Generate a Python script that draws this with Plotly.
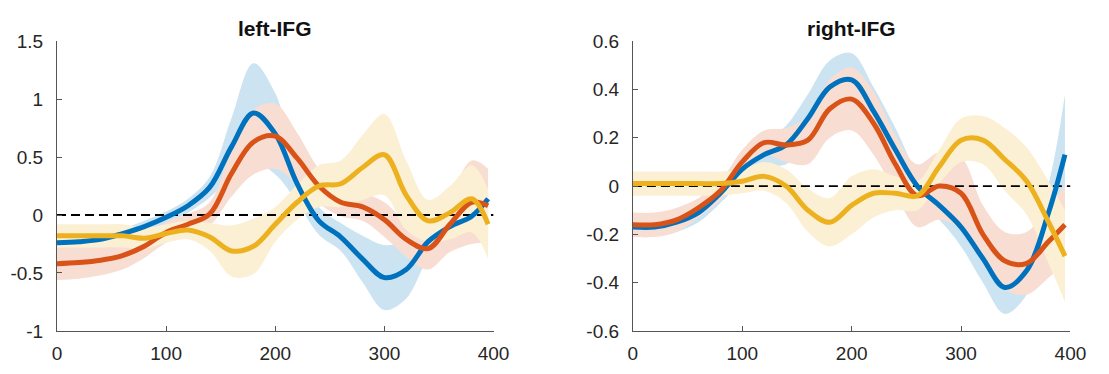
import plotly.graph_objects as go

# Time points (ms)
time = [0, 20, 40, 60, 80, 100, 120, 140, 160, 180, 200,
        220, 240, 260, 280, 300, 320, 340, 360, 380, 395]

# ---- left-IFG: condition means and standard errors ----
left_blue = [-0.24, -0.23, -0.21, -0.16, -0.10, -0.02, 0.08, 0.24, 0.59, 0.88, 0.70,
             0.27, -0.05, -0.19, -0.38, -0.54, -0.47, -0.23, -0.10, -0.01, 0.14]
left_blue_se = [0.04, 0.04, 0.04, 0.04, 0.05, 0.05, 0.06, 0.09, 0.25, 0.43, 0.35,
                0.16, 0.12, 0.12, 0.2, 0.28, 0.25, 0.15, 0.1, 0.06, 0.04]

left_red = [-0.42, -0.41, -0.39, -0.35, -0.27, -0.15, -0.08, 0.01, 0.36, 0.63, 0.68,
            0.49, 0.25, 0.11, 0.07, -0.04, -0.21, -0.29, -0.08, 0.11, 0.08]
left_red_se = [0.14, 0.14, 0.13, 0.12, 0.1, 0.09, 0.09, 0.1, 0.2, 0.28, 0.28,
               0.22, 0.15, 0.12, 0.12, 0.15, 0.15, 0.18, 0.24, 0.36, 0.32]

left_yellow = [-0.18, -0.18, -0.18, -0.18, -0.20, -0.16, -0.13, -0.19, -0.31, -0.27, -0.08,
               0.11, 0.25, 0.27, 0.41, 0.52, 0.17, -0.05, 0.02, 0.14, -0.08]
left_yellow_se = [0.1, 0.1, 0.1, 0.1, 0.09, 0.08, 0.08, 0.12, 0.22, 0.24, 0.15,
                  0.15, 0.18, 0.2, 0.28, 0.35, 0.3, 0.18, 0.23, 0.29, 0.3]

# ---- right-IFG: condition means and standard errors ----
right_blue = [-0.17, -0.17, -0.15, -0.11, -0.03, 0.07, 0.13, 0.17, 0.28, 0.41, 0.44,
              0.31, 0.15, 0.00, -0.08, -0.17, -0.30, -0.42, -0.35, -0.11, 0.13]
right_blue_se = [0.04, 0.04, 0.04, 0.04, 0.04, 0.05, 0.05, 0.08, 0.1, 0.11, 0.11,
                 0.1, 0.09, 0.06, 0.06, 0.08, 0.1, 0.11, 0.1, 0.12, 0.25]

right_red = [-0.16, -0.16, -0.14, -0.09, -0.02, 0.10, 0.18, 0.17, 0.19, 0.32, 0.36,
             0.26, 0.09, -0.04, 0.00, -0.03, -0.20, -0.31, -0.32, -0.23, -0.16]
right_red_se = [0.05, 0.05, 0.05, 0.04, 0.04, 0.05, 0.05, 0.07, 0.1, 0.12, 0.13,
                0.13, 0.12, 0.13, 0.14, 0.15, 0.12, 0.12, 0.13, 0.15, 0.16]

right_yellow = [0.01, 0.01, 0.01, 0.01, 0.01, 0.02, 0.04, 0.00, -0.10, -0.15, -0.08,
                -0.03, -0.03, -0.04, 0.08, 0.19, 0.19, 0.11, 0.02, -0.15, -0.29]
right_yellow_se = [0.05, 0.05, 0.05, 0.05, 0.05, 0.05, 0.06, 0.07, 0.09, 0.1, 0.12,
                   0.1, 0.07, 0.06, 0.07, 0.09, 0.1, 0.13, 0.14, 0.17, 0.19]

panel_titles = ["left-IFG", "right-IFG"]
x_ticks = [0, 100, 200, 300, 400]
x_ticktext = ["0", "100", "200", "300", "400"]
left_yticks = [-1, -0.5, 0, 0.5, 1, 1.5]
left_yticktext = ["-1", "-0.5", "0", "0.5", "1", "1.5"]
right_yticks = [-0.6, -0.4, -0.2, 0, 0.2, 0.4, 0.6]
right_yticktext = ["-0.6", "-0.4", "-0.2", "0", "0.2", "0.4", "0.6"]

COLORS = ["#0072BD", "#D95319", "#EDB120"]
# opaque pale shades for the error bands (drawn in series order)
BANDS = ["#CCE3F2", "#F8DED2", "#FBF0D3"]

panels = [
    ("x", "y", [(left_blue, left_blue_se), (left_red, left_red_se), (left_yellow, left_yellow_se)]),
    ("x2", "y2", [(right_blue, right_blue_se), (right_red, right_red_se), (right_yellow, right_yellow_se)]),
]

fig = go.Figure()

for xa, ya, series in panels:
    # shaded error bands
    for (mean, se), band in zip(series, BANDS):
        upper = [m + s for m, s in zip(mean, se)]
        lower = [m - s for m, s in zip(mean, se)]
        fig.add_trace(go.Scatter(x=time, y=upper, xaxis=xa, yaxis=ya, mode="lines",
                                 line=dict(width=0, shape="spline", smoothing=1.0),
                                 showlegend=False, hoverinfo="skip"))
        fig.add_trace(go.Scatter(x=time, y=lower, xaxis=xa, yaxis=ya, mode="lines",
                                 line=dict(width=0, shape="spline", smoothing=1.0),
                                 fill="tonexty", fillcolor=band,
                                 showlegend=False, hoverinfo="skip"))
    # zero reference line
    fig.add_trace(go.Scatter(x=[0, 400], y=[0, 0], xaxis=xa, yaxis=ya, mode="lines",
                             line=dict(color="black", width=1.8, dash="9px,5px"),
                             showlegend=False, hoverinfo="skip"))
    # condition means
    for (mean, se), color in zip(series, COLORS):
        fig.add_trace(go.Scatter(x=time, y=mean, xaxis=xa, yaxis=ya, mode="lines",
                                 line=dict(color=color, width=5, shape="spline", smoothing=1.0),
                                 showlegend=False))

W, H = 1109, 374
dom_left = [53 / W, 498 / W]
dom_right = [640 / W, 1086 / W]
dom_y = [1 - 340 / H, 1 - 33 / H]

axis_common = dict(showline=True, linecolor="#555555", linewidth=1, ticks="inside",
                   ticklen=5, tickcolor="#555555", showgrid=False, zeroline=False,
                   tickfont=dict(family="Liberation Sans", size=19, color="#262626"))

fig.update_layout(
    width=W, height=H, margin=dict(l=0, r=0, t=0, b=0),
    paper_bgcolor="white", plot_bgcolor="white",
    xaxis=dict(domain=dom_left, range=[0, 400], tickvals=x_ticks, ticktext=x_ticktext,
               anchor="y", ticklabelstandoff=5, **axis_common),
    yaxis=dict(domain=dom_y, range=[-1, 1.5], tickvals=left_yticks, ticktext=left_yticktext,
               anchor="x", ticklabelstandoff=9, **axis_common),
    xaxis2=dict(domain=dom_right, range=[0, 400], tickvals=x_ticks, ticktext=x_ticktext,
                anchor="y2", ticklabelstandoff=5, **axis_common),
    yaxis2=dict(domain=dom_y, range=[-0.6, 0.6], tickvals=right_yticks, ticktext=right_yticktext,
                anchor="x2", ticklabelstandoff=9, **axis_common),
)

for title, dom in zip(panel_titles, [dom_left, dom_right]):
    fig.add_annotation(text="<b>" + title + "</b>", xref="paper", yref="paper",
                       x=(dom[0] + dom[1]) / 2, y=1 - 20 / H, xanchor="center", yanchor="middle",
                       showarrow=False, font=dict(family="Liberation Sans", size=21, color="#111111"))

fig.write_html("out.html")
